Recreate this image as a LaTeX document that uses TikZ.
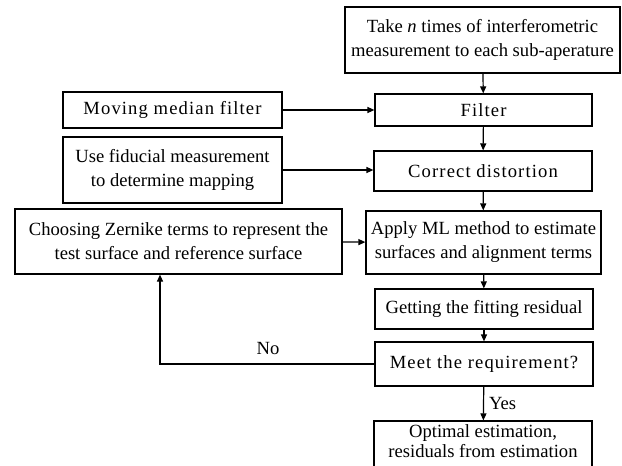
\documentclass[tikz,border=0pt]{standalone}
\usepackage{fontspec}
\setmainfont{Liberation Serif}
\usetikzlibrary{arrows.meta}
\begin{document}
\begin{tikzpicture}[x=1pt,y=-1pt,
  txt/.style={font=\fontsize{18.6}{24}\selectfont},
  box/.style={draw,line width=1.2pt,inner sep=0pt,align=center,txt},
  wide/.style={font=\fontsize{18.6}{24}\selectfont\addfontfeature{LetterSpace=6}},
  arr/.style={line width=1.2pt,-{Triangle[length=7pt,width=6pt]}},
  lbl/.style={txt,inner sep=0pt}]
\useasboundingbox (0,0) rectangle (622,466);
\begin{scope}
\clip (0,0) rectangle (622,466);
% main column
\node[box,minimum width=275pt,minimum height=66pt] (take) at (482.5,40)
  {Take \textit{n} times of interferometric\\measurement to each sub-aperature};
\node[box,wide,minimum width=217pt,minimum height=32pt] (filter) at (483.5,110) {Filter};
\node[box,wide,minimum width=218pt,minimum height=40pt] (correct) at (483,171) {Correct distortion};
\node[box,minimum width=235pt,minimum height=63pt] (apply) at (483.5,242.5)
  {Apply ML method to estimate\\surfaces and alignment terms};
\node[box,minimum width=218pt,minimum height=40pt] (getting) at (484,309) {Getting the fitting residual};
\node[box,wide,minimum width=218pt,minimum height=44pt] (meet) at (484,364) {Meet the requirement?};
\node[draw,line width=1.2pt,minimum width=218pt,minimum height=62pt] (optimal) at (483,452) {};
\node[inner sep=0pt,align=center,anchor=north,font=\fontsize{18.6}{20.5}\selectfont] (optimaltext) at (483,424)
  {Optimal estimation,\\residuals from estimation};
% side column
\node[box,wide,minimum width=219pt,minimum height=36pt] (moving) at (172.5,110) {Moving median filter};
\node[box,minimum width=219pt,minimum height=66pt] (fiducial) at (172.5,170)
  {Use fiducial measurement\\to determine mapping};
\node[box,minimum width=327pt,minimum height=65pt] (choosing) at (178.5,241.5)
  {Choosing Zernike terms to represent the\\test surface and reference surface};
% connectors
\draw[arr] (take) -- (filter);
\draw[arr] (filter) -- (correct);
\draw[arr] (correct) -- (apply);
\draw[arr] (apply) -- (getting);
\draw[arr] (getting) -- (meet);
\draw[arr] (meet) -- node[lbl,anchor=west,xshift=5pt] {Yes} (optimal);
\draw[arr] (moving) -- (filter);
\draw[arr] (fiducial.east) -- (fiducial.east -| correct.west);
\draw[arr] (choosing) -- (apply);
\coordinate (bend) at (160,364);
\draw[arr] (meet.west) -- (bend) -- (bend |- choosing.south);
\node[lbl] (no) at (268,348) {No};
\end{scope}
\end{tikzpicture}
\end{document}
